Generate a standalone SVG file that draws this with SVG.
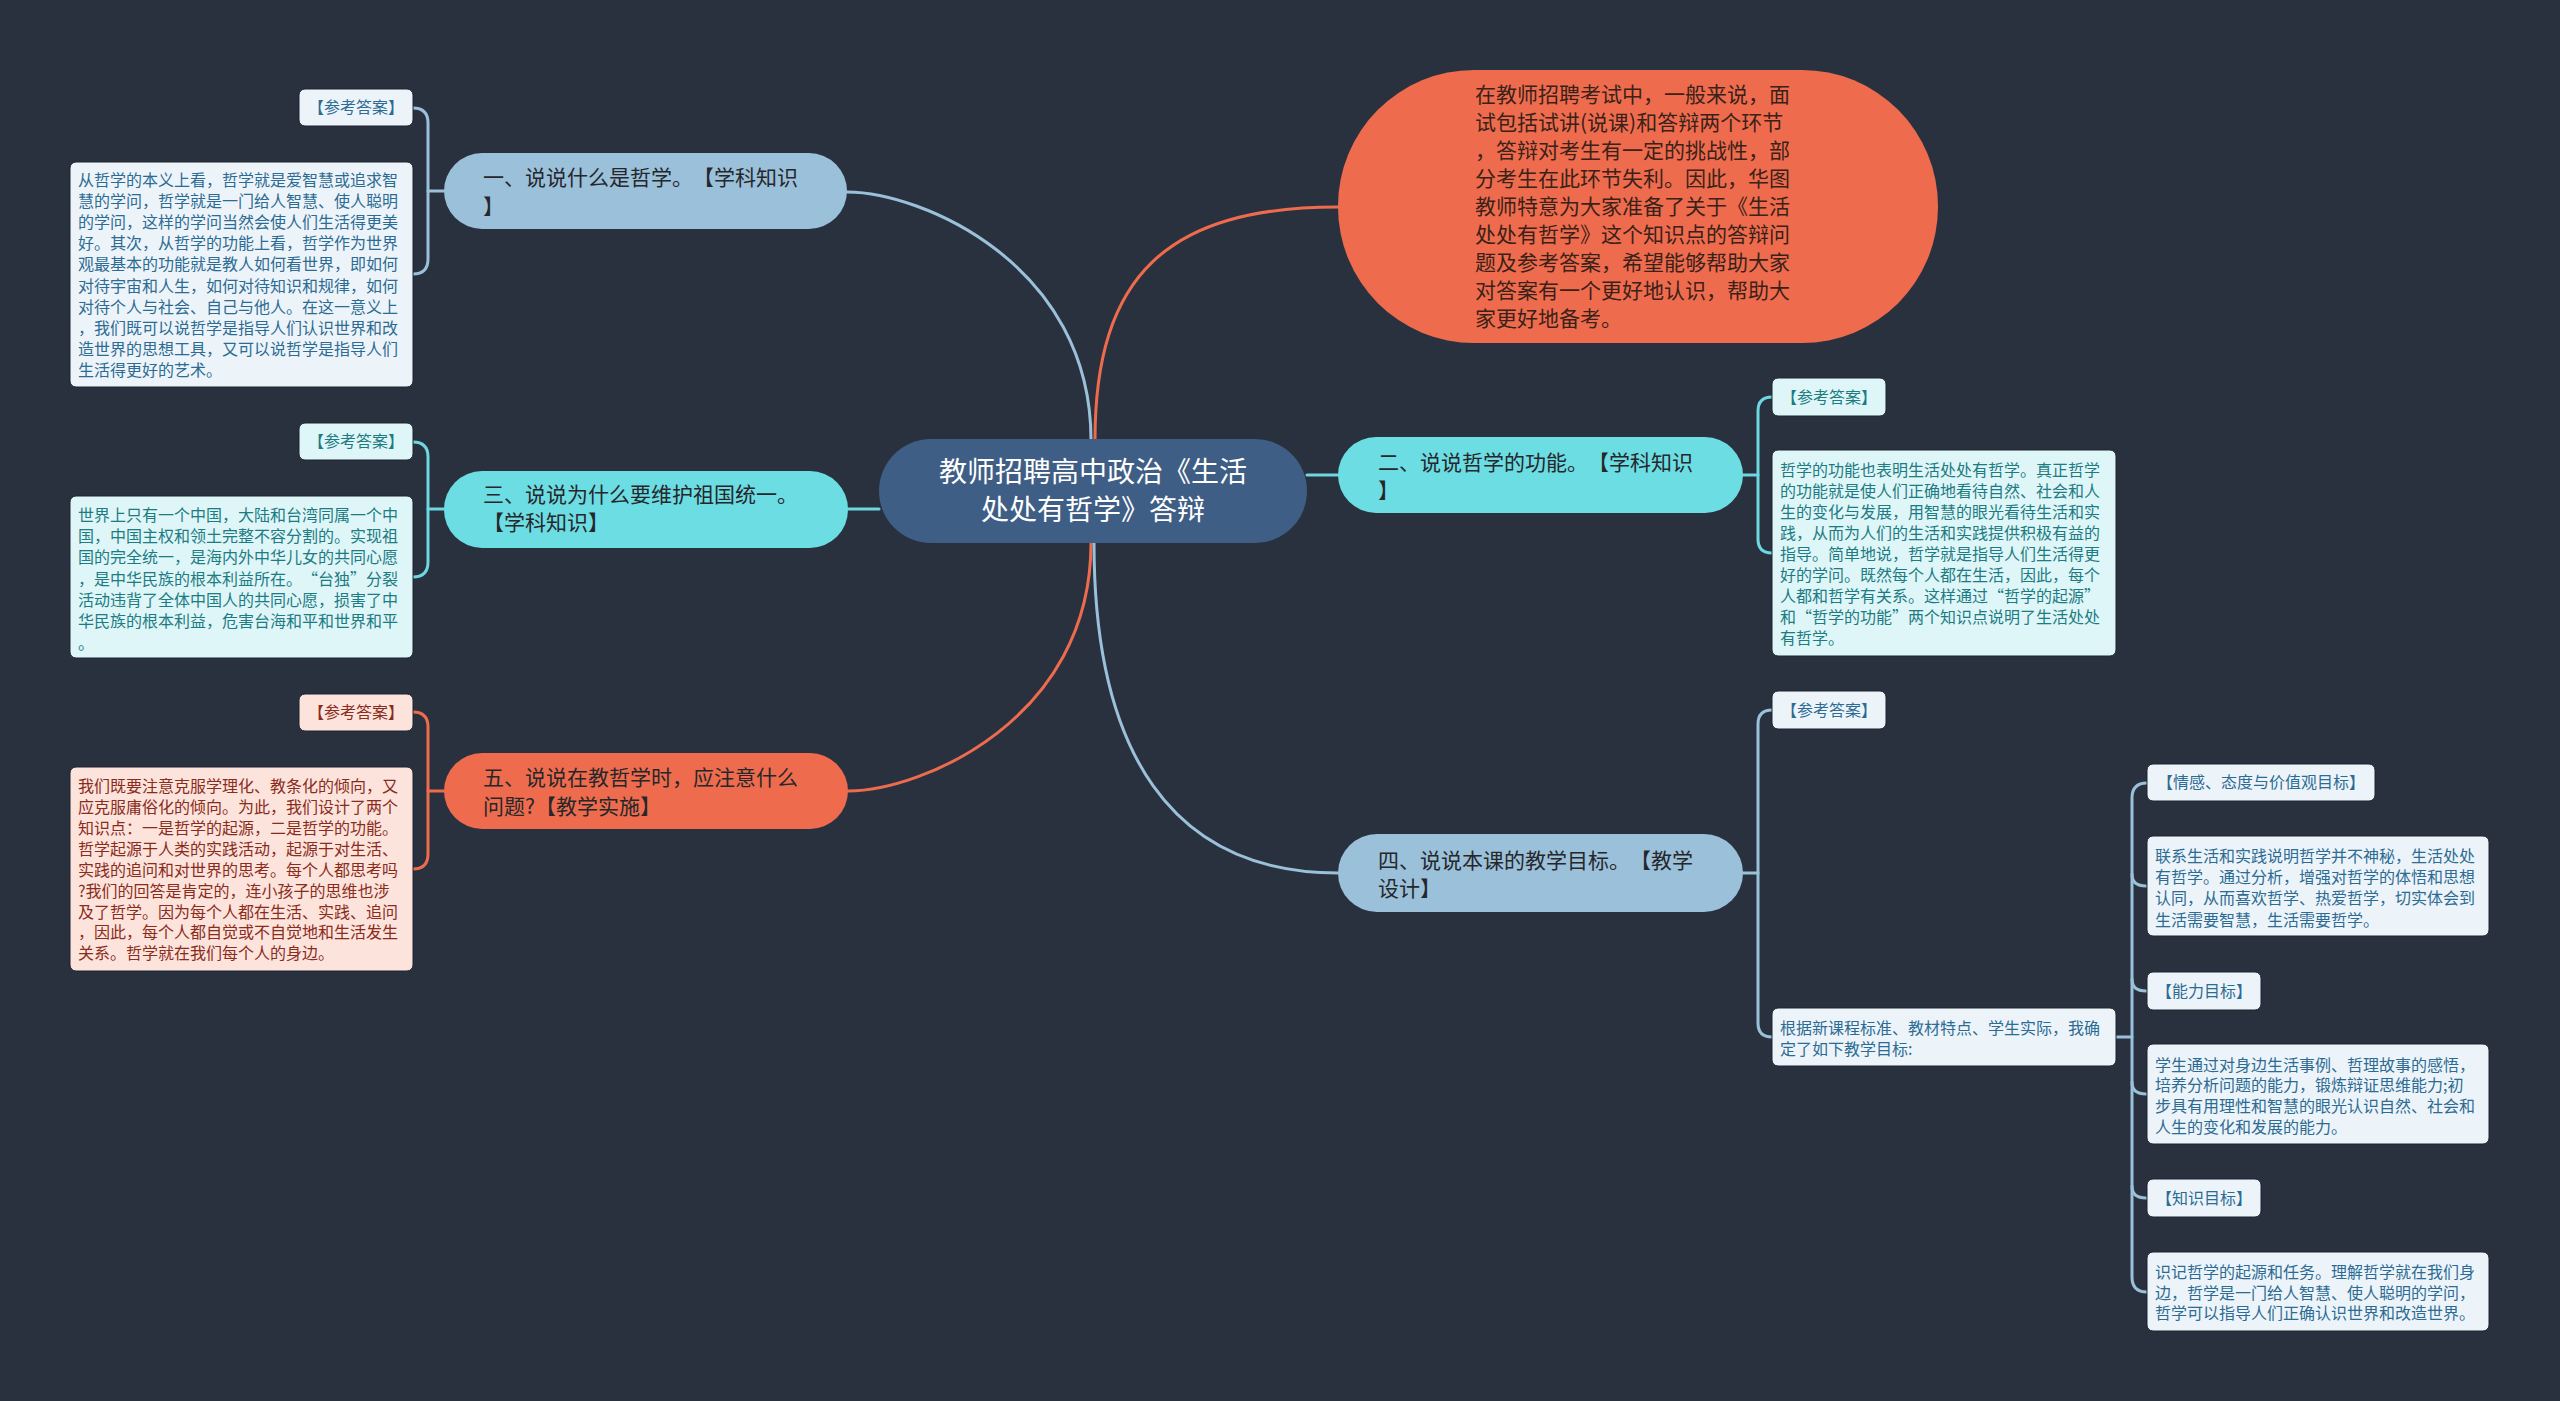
<svg xmlns="http://www.w3.org/2000/svg" width="2560" height="1401" viewBox="0 0 2560 1401">
<style>
text{font-family:"Noto Sans CJK SC","Noto Sans",sans-serif;text-spacing-trim:space-all;font-feature-settings:"chws" 0,"halt" 0;}
.t-center{font-size:28px;fill:#ffffff;text-anchor:middle;}
.t-branch{font-size:21px;fill:#26272b;}
.t-intro{font-size:21px;fill:#3a2119;}
.t-small{font-size:16px;}
.mid{text-anchor:middle;}
.c-blue{stroke:#9bc0d9;}
.c-cyan{stroke:#6dd8df;}
.c-orange{stroke:#ee6c4d;}
.conn path{fill:none;stroke-width:3;stroke-linecap:round;}
.fb{fill:#edf4f9;} .tb{fill:#2c6b93;}
.fc{fill:#def6f7;} .tc{fill:#1d7b83;}
.fo{fill:#fce3dc;} .to{fill:#8a2c1b;}
.box{stroke:#1d2430;stroke-width:1;}
</style>
<rect x="0" y="0" width="2560" height="1401" fill="#29313f"/>

<g id="connectors" class="conn">
  <path class="c-blue" d="M1091 440 C1091 264 921 192 847 192"/>
  <path class="c-orange" d="M1095 440 C1095 275 1168 207 1338 207"/>
  <path class="c-cyan" d="M879 509 L848 509"/>
  <path class="c-cyan" d="M1307 475 L1338 475"/>
  <path class="c-orange" d="M1091 543 C1091 720 921 791 848 791"/>
  <path class="c-blue" d="M1094 543 C1094 750 1170 873 1338 873"/>
  <path class="c-blue" d="M444 191 L428 191"/>
  <path class="c-blue" d="M413 108 Q428 108 428 123 L428 259 Q428 274 413 274"/>
  <path class="c-cyan" d="M444 509 L428 509"/>
  <path class="c-cyan" d="M413 442 Q428 442 428 457 L428 562 Q428 577 413 577"/>
  <path class="c-orange" d="M444 791 L428 791"/>
  <path class="c-orange" d="M413 712 Q428 712 428 727 L428 854 Q428 869 413 869"/>
  <path class="c-cyan" d="M1743 475 L1758 475"/>
  <path class="c-cyan" d="M1772 397 Q1758 397 1758 411 L1758 539 Q1758 553 1772 553"/>
  <path class="c-blue" d="M1743 873 L1758 873"/>
  <path class="c-blue" d="M1772 710 Q1758 710 1758 724 L1758 1023 Q1758 1037 1772 1037"/>
  <path class="c-blue" d="M2116 1037 L2132 1037"/>
  <path class="c-blue" d="M2147 783 Q2132 783 2132 798 L2132 1277 Q2132 1292 2147 1292"/>
  <path class="c-blue" d="M2132 874 Q2132 886 2146 886"/>
  <path class="c-blue" d="M2132 979 Q2132 991 2146 991"/>
  <path class="c-blue" d="M2132 1082 Q2132 1094 2146 1094"/>
  <path class="c-blue" d="M2132 1186 Q2132 1198 2146 1198"/>
</g>

<g id="center">
  <rect x="879" y="439" width="428" height="104" rx="52" fill="#3f5e85"/>
  <text class="t-center"><tspan x="1093" y="482">教师招聘高中政治《生活</tspan><tspan x="1093" y="520">处处有哲学》答辩</tspan></text>
</g>

<g id="intro">
  <rect x="1338" y="70" width="600" height="273" rx="136" fill="#ee6c4d"/>
  <text class="t-intro">
    <tspan x="1475" y="102">在教师招聘考试中，一般来说，面</tspan>
    <tspan x="1475" y="130">试包括试讲(说课)和答辩两个环节</tspan>
    <tspan x="1475" y="158">，答辩对考生有一定的挑战性，部</tspan>
    <tspan x="1475" y="186">分考生在此环节失利。因此，华图</tspan>
    <tspan x="1475" y="214">教师特意为大家准备了关于《生活</tspan>
    <tspan x="1475" y="242">处处有哲学》这个知识点的答辩问</tspan>
    <tspan x="1475" y="270">题及参考答案，希望能够帮助大家</tspan>
    <tspan x="1475" y="298">对答案有一个更好地认识，帮助大</tspan>
    <tspan x="1475" y="326">家更好地备考。</tspan>
  </text>
</g>

<g id="branch1">
  <rect x="444" y="153" width="403" height="76" rx="38" fill="#9ac0da"/>
  <text class="t-branch"><tspan x="483" y="185">一、说说什么是哲学。【学科知识</tspan><tspan x="483" y="214">】</tspan></text>
</g>
<g id="branch1-label">
  <rect class="box fb" x="299" y="89" width="114" height="37" rx="6"/>
  <text class="t-small tb mid" x="356" y="113">【参考答案】</text>
</g>
<g id="branch1-answer">
  <rect class="box fb" x="70" y="162" width="343" height="225" rx="6"/>
  <text class="t-small tb">
    <tspan x="78" y="186">从哲学的本义上看，哲学就是爱智慧或追求智</tspan>
    <tspan x="78" y="207">慧的学问，哲学就是一门给人智慧、使人聪明</tspan>
    <tspan x="78" y="228">的学问，这样的学问当然会使人们生活得更美</tspan>
    <tspan x="78" y="249">好。其次，从哲学的功能上看，哲学作为世界</tspan>
    <tspan x="78" y="270">观最基本的功能就是教人如何看世界，即如何</tspan>
    <tspan x="78" y="292">对待宇宙和人生，如何对待知识和规律，如何</tspan>
    <tspan x="78" y="313">对待个人与社会、自己与他人。在这一意义上</tspan>
    <tspan x="78" y="334">，我们既可以说哲学是指导人们认识世界和改</tspan>
    <tspan x="78" y="355">造世界的思想工具，又可以说哲学是指导人们</tspan>
    <tspan x="78" y="376">生活得更好的艺术。</tspan>
  </text>
</g>

<g id="branch3">
  <rect x="444" y="471" width="404" height="77" rx="38" fill="#6bdde3"/>
  <text class="t-branch"><tspan x="483" y="502">三、说说为什么要维护祖国统一。</tspan><tspan x="483" y="530">【学科知识】</tspan></text>
</g>
<g id="branch3-label">
  <rect class="box fc" x="299" y="423" width="114" height="37" rx="6"/>
  <text class="t-small tc mid" x="356" y="447">【参考答案】</text>
</g>
<g id="branch3-answer">
  <rect class="box fc" x="70" y="496" width="343" height="162" rx="6"/>
  <text class="t-small tc">
    <tspan x="78" y="521">世界上只有一个中国，大陆和台湾同属一个中</tspan>
    <tspan x="78" y="542">国，中国主权和领土完整不容分割的。实现祖</tspan>
    <tspan x="78" y="563">国的完全统一，是海内外中华儿女的共同心愿</tspan>
    <tspan x="78" y="585">，是中华民族的根本利益所在。“台独”分裂</tspan>
    <tspan x="78" y="606">活动违背了全体中国人的共同心愿，损害了中</tspan>
    <tspan x="78" y="627">华民族的根本利益，危害台海和平和世界和平</tspan>
    <tspan x="78" y="649">。</tspan>
  </text>
</g>

<g id="branch5">
  <rect x="444" y="753" width="404" height="76" rx="38" fill="#ee6c4d"/>
  <text class="t-branch"><tspan x="483" y="785">五、说说在教哲学时，应注意什么</tspan><tspan x="483" y="814">问题?【教学实施】</tspan></text>
</g>
<g id="branch5-label">
  <rect class="box fo" x="299" y="694" width="114" height="37" rx="6"/>
  <text class="t-small to mid" x="356" y="718">【参考答案】</text>
</g>
<g id="branch5-answer">
  <rect class="box fo" x="70" y="767" width="343" height="204" rx="6"/>
  <text class="t-small to">
    <tspan x="78" y="792">我们既要注意克服学理化、教条化的倾向，又</tspan>
    <tspan x="78" y="813">应克服庸俗化的倾向。为此，我们设计了两个</tspan>
    <tspan x="78" y="834">知识点：一是哲学的起源，二是哲学的功能。</tspan>
    <tspan x="78" y="855">哲学起源于人类的实践活动，起源于对生活、</tspan>
    <tspan x="78" y="876">实践的追问和对世界的思考。每个人都思考吗</tspan>
    <tspan x="78" y="897">?我们的回答是肯定的，连小孩子的思维也涉</tspan>
    <tspan x="78" y="918">及了哲学。因为每个人都在生活、实践、追问</tspan>
    <tspan x="78" y="938">，因此，每个人都自觉或不自觉地和生活发生</tspan>
    <tspan x="78" y="959">关系。哲学就在我们每个人的身边。</tspan>
  </text>
</g>

<g id="branch2">
  <rect x="1338" y="437" width="405" height="76" rx="38" fill="#6bdde3"/>
  <text class="t-branch"><tspan x="1378" y="470">二、说说哲学的功能。【学科知识</tspan><tspan x="1378" y="498">】</tspan></text>
</g>
<g id="branch2-label">
  <rect class="box fc" x="1772" y="378" width="114" height="38" rx="6"/>
  <text class="t-small tc mid" x="1829" y="403">【参考答案】</text>
</g>
<g id="branch2-answer">
  <rect class="box fc" x="1772" y="450" width="344" height="206" rx="6"/>
  <text class="t-small tc">
    <tspan x="1780" y="476">哲学的功能也表明生活处处有哲学。真正哲学</tspan>
    <tspan x="1780" y="497">的功能就是使人们正确地看待自然、社会和人</tspan>
    <tspan x="1780" y="518">生的变化与发展，用智慧的眼光看待生活和实</tspan>
    <tspan x="1780" y="539">践，从而为人们的生活和实践提供积极有益的</tspan>
    <tspan x="1780" y="560">指导。简单地说，哲学就是指导人们生活得更</tspan>
    <tspan x="1780" y="581">好的学问。既然每个人都在生活，因此，每个</tspan>
    <tspan x="1780" y="602">人都和哲学有关系。这样通过“哲学的起源”</tspan>
    <tspan x="1780" y="623">和“哲学的功能”两个知识点说明了生活处处</tspan>
    <tspan x="1780" y="644">有哲学。</tspan>
  </text>
</g>

<g id="branch4">
  <rect x="1338" y="834" width="405" height="78" rx="39" fill="#9ac0da"/>
  <text class="t-branch"><tspan x="1378" y="868">四、说说本课的教学目标。【教学</tspan><tspan x="1378" y="896">设计】</tspan></text>
</g>
<g id="branch4-label">
  <rect class="box fb" x="1772" y="691" width="114" height="38" rx="6"/>
  <text class="t-small tb mid" x="1829" y="716">【参考答案】</text>
</g>
<g id="branch4-answer">
  <rect class="box fb" x="1772" y="1008" width="344" height="58" rx="6"/>
  <text class="t-small tb"><tspan x="1780" y="1034">根据新课程标准、教材特点、学生实际，我确</tspan><tspan x="1780" y="1055">定了如下教学目标:</tspan></text>
</g>

<g id="goal-emotion-label">
  <rect class="box fb" x="2147" y="764" width="228" height="37" rx="6"/>
  <text class="t-small tb mid" x="2261" y="788">【情感、态度与价值观目标】</text>
</g>
<g id="goal-emotion">
  <rect class="box fb" x="2147" y="836" width="342" height="100" rx="6"/>
  <text class="t-small tb">
    <tspan x="2155" y="862">联系生活和实践说明哲学并不神秘，生活处处</tspan>
    <tspan x="2155" y="883">有哲学。通过分析，增强对哲学的体悟和思想</tspan>
    <tspan x="2155" y="904">认同，从而喜欢哲学、热爱哲学，切实体会到</tspan>
    <tspan x="2155" y="926">生活需要智慧，生活需要哲学。</tspan>
  </text>
</g>
<g id="goal-ability-label">
  <rect class="box fb" x="2147" y="972" width="114" height="38" rx="6"/>
  <text class="t-small tb mid" x="2204" y="997">【能力目标】</text>
</g>
<g id="goal-ability">
  <rect class="box fb" x="2147" y="1044" width="342" height="100" rx="6"/>
  <text class="t-small tb">
    <tspan x="2155" y="1071">学生通过对身边生活事例、哲理故事的感悟，</tspan>
    <tspan x="2155" y="1091">培养分析问题的能力，锻炼辩证思维能力;初</tspan>
    <tspan x="2155" y="1112">步具有用理性和智慧的眼光认识自然、社会和</tspan>
    <tspan x="2155" y="1133">人生的变化和发展的能力。</tspan>
  </text>
</g>
<g id="goal-knowledge-label">
  <rect class="box fb" x="2147" y="1179" width="114" height="38" rx="6"/>
  <text class="t-small tb mid" x="2204" y="1204">【知识目标】</text>
</g>
<g id="goal-knowledge">
  <rect class="box fb" x="2147" y="1252" width="342" height="79" rx="6"/>
  <text class="t-small tb">
    <tspan x="2155" y="1278">识记哲学的起源和任务。理解哲学就在我们身</tspan>
    <tspan x="2155" y="1299">边，哲学是一门给人智慧、使人聪明的学问，</tspan>
    <tspan x="2155" y="1319">哲学可以指导人们正确认识世界和改造世界。</tspan>
  </text>
</g>
</svg>
